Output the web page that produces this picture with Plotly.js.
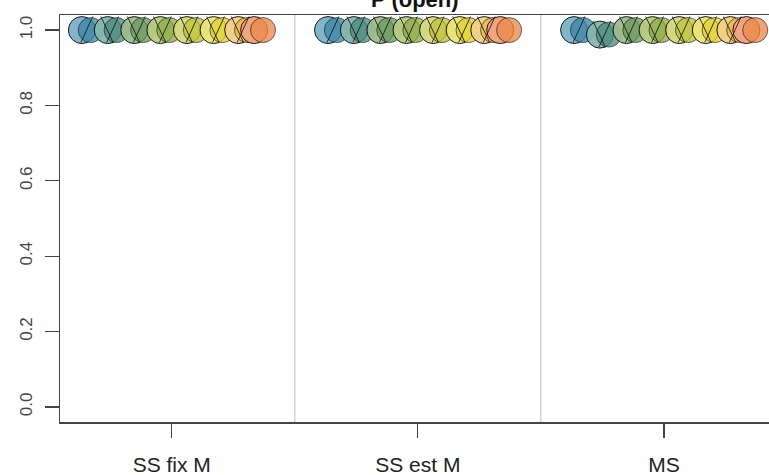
<!DOCTYPE html>
<html>
<head>
<meta charset="utf-8">
<script src="https://cdn.plot.ly/plotly-3.0.1.min.js"></script>
<style>html,body{margin:0;padding:0;background:#fff}#chart{width:769px;height:475px}</style>
</head>
<body>
<div id="chart"></div>
<script>
// ---- data ----
const groups = ['SS fix M', 'SS est M', 'MS'];
const yTicks = [0, 0.2, 0.4, 0.6, 0.8, 1.0];
const yTickLabels = ['0.0', '0.2', '0.4', '0.6', '0.8', '1.0'];
// eight models, values per group (model order left to right)
const valSSfixM = [1.0, 1.0, 1.0, 1.0, 1.0, 1.0, 1.0, 1.0];
const valSSestM = [1.0, 1.0, 1.0, 1.0, 1.0, 1.0, 1.0, 1.0];
const valMS     = [1.0, 0.988, 1.0, 1.0, 1.0, 1.0, 1.0, 1.0];
const modelOffsets = [-0.355, -0.25, -0.142, -0.036, 0.072, 0.18, 0.28, 0.345];
const lightColors = ['#7cb2c8', '#86b6ae', '#9cbc8c', '#b8cc80', '#d6da80', '#ece47a', '#f4d088', '#f4a484'];
const darkColors  = ['#3c88a8', '#4c8c80', '#6c9a5e', '#90ac4a', '#c0c43c', '#e2d232', '#eab840', '#ec8a4a'];
const titleText = 'P (open)';

const groupVals = [valSSfixM, valSSestM, valMS];
const traces = [];
const nM = modelOffsets.length;
for (let k = 0; k < nM; k++) {
  const xs = [], ys = [];
  groups.forEach((g, gi) => { xs.push(gi + 1 + modelOffsets[k]); ys.push(groupVals[gi][k]); });
  traces.push({
    type: 'scatter', mode: 'markers', x: xs.map(v => v - 0.01), y: ys, cliponaxis: false,
    hoverinfo: 'skip', showlegend: false,
    marker: {size: 27, color: lightColors[k], opacity: 0.95, line: {color: '#111', width: 1}}
  });
  traces.push({
    type: 'scatter', mode: 'markers', x: xs.map(v => v + 0.026), y: ys, cliponaxis: false,
    hoverinfo: 'skip', showlegend: false,
    marker: {size: 25, color: darkColors[k], opacity: 0.78, line: {color: '#111', width: 0.8}}
  });
}
// diagonal strokes through each point
for (let k = 0; k < nM - 1; k++) {
  const lx = [], ly = [];
  groups.forEach((g, gi) => {
    const x = gi + 1 + modelOffsets[k], y = groupVals[gi][k];
    lx.push(x - 0.014, x + 0.034, null);
    ly.push(y - 0.033, y + 0.036, null);
    if (k > 0) {
      lx.push(x - 0.038, x + 0.012, null);
      ly.push(y + 0.036, y - 0.033, null);
    }
  });
  traces.push({type: 'scatter', mode: 'lines', x: lx, y: ly, cliponaxis: false, hoverinfo: 'skip',
    showlegend: false, line: {color: 'rgba(20,20,20,0.85)', width: 1}});
}

const shapes = [];
for (let i = 1; i < groups.length; i++) {
  shapes.push({type: 'line', xref: 'x', yref: 'paper', x0: i + 0.5, x1: i + 0.5, y0: 0, y1: 1,
    line: {color: '#c8c8c8', width: 1.2}, layer: 'below'});
}

const layout = {
  width: 769, height: 475,
  margin: {l: 60, r: 0, t: 15, b: 53, pad: 0},
  paper_bgcolor: '#fff', plot_bgcolor: '#fff',
  showlegend: false,
  xaxis: {
    range: [0.546, 3.427], tickmode: 'array', tickvals: groups.map((g, i) => i + 1), ticktext: groups,
    showgrid: false, zeroline: false, showline: true, mirror: true, linecolor: '#444', linewidth: 1.5,
    ticks: 'outside', ticklen: 14, tickwidth: 1.2, tickcolor: '#444', ticklabelstandoff: 9,
    tickfont: {family: 'Liberation Sans Narrow, Arial Narrow, Liberation Sans, sans-serif', size: 21, color: '#222'}
  },
  yaxis: {
    range: [-0.04, 1.04], tickmode: 'array', tickvals: yTicks, ticktext: yTickLabels,
    showgrid: false, zeroline: false, showline: true, mirror: false, linecolor: '#444', linewidth: 1.5,
    ticks: 'outside', ticklen: 14, tickwidth: 1.2, tickcolor: '#444', tickangle: -90, ticklabelstandoff: 6,
    tickfont: {family: 'Liberation Sans, Arial, sans-serif', size: 17, color: '#444'}
  },
  shapes: shapes,
  annotations: [{text: '<b>' + titleText + '</b>', xref: 'paper', yref: 'paper', x: 0.5, y: 1.039,
    xanchor: 'center', yanchor: 'middle', showarrow: false,
    font: {family: 'Liberation Sans, Arial, sans-serif', size: 22, color: '#111'}}]
};

Plotly.newPlot('chart', traces, layout, {displayModeBar: false, staticPlot: true});
</script>
</body>
</html>
